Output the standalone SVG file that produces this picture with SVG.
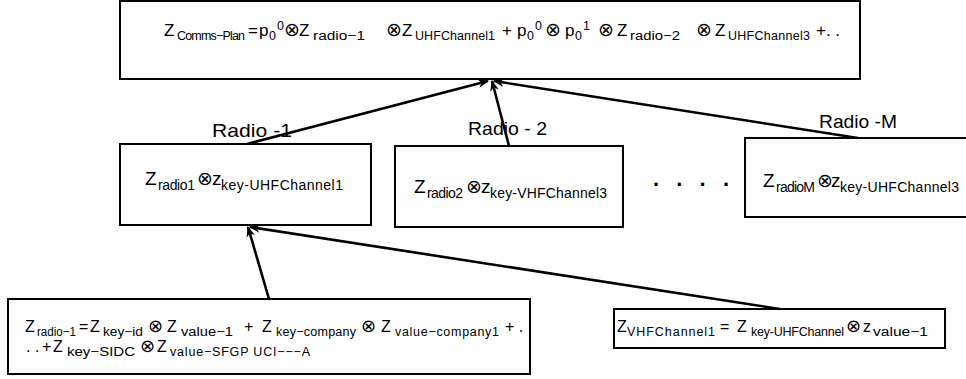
<svg xmlns="http://www.w3.org/2000/svg" width="966" height="379" viewBox="0 0 966 379">
<style>
text{font-family:"Liberation Sans",Arial,"DejaVu Sans",sans-serif;fill:#000}
.box{fill:#fff;stroke:#000;stroke-width:2}
.conn line{stroke:#000;stroke-width:2.6;marker-end:url(#ah)}
.t{font-size:17px}
.t .s{font-size:12.5px}
.t .op{font-size:19px}
.mid{font-size:19px}
.mid .s{font-size:14px}
.mid .op{font-size:19px}
.bot{font-size:16px}
.bot .s{font-size:12.5px}
.bot .op{font-size:18px}
.lbl{font-size:18.5px}
.op{font-family:"DejaVu Sans",sans-serif}
</style>
<defs>
<marker id="ah" viewBox="0 0 10 10" refX="9" refY="5" markerWidth="11" markerHeight="11" markerUnits="userSpaceOnUse" orient="auto"><path d="M0,1 L10,5 L0,9 L3,5 z" fill="#000"/></marker>
</defs>
<rect width="966" height="379" fill="#fff"/>
<g id="comms-plan">
<rect class="box" x="120" y="1" width="740" height="78"/>
<text class="t"><tspan x="164" y="36">Z</tspan><tspan class="s" x="177" y="40" textLength="68" lengthAdjust="spacing">Comms−Plan</tspan><tspan x="248" y="36">=</tspan><tspan x="259" y="36">p</tspan><tspan class="s" x="269" y="40">0</tspan><tspan class="s" x="277" y="30">0</tspan><tspan class="op" x="284" y="36">⊗</tspan><tspan x="299" y="36">Z</tspan><tspan class="s" x="313" y="40" textLength="52" lengthAdjust="spacingAndGlyphs">radio−1</tspan><tspan class="op" x="386" y="36">⊗</tspan><tspan x="402" y="36">Z</tspan><tspan class="s" x="415" y="40" textLength="80" lengthAdjust="spacing">UHFChannel1</tspan><tspan x="502" y="36">+</tspan><tspan x="517" y="36">p</tspan><tspan class="s" x="527" y="40">0</tspan><tspan class="s" x="535" y="30">0</tspan><tspan class="op" x="545" y="36">⊗</tspan><tspan x="565" y="36">p</tspan><tspan class="s" x="575" y="40">0</tspan><tspan class="s" x="583" y="30">1</tspan><tspan class="op" x="598" y="36">⊗</tspan><tspan x="617" y="36">Z</tspan><tspan class="s" x="630" y="40" textLength="50" lengthAdjust="spacingAndGlyphs">radio−2</tspan><tspan class="op" x="696" y="36">⊗</tspan><tspan x="715" y="36">Z</tspan><tspan class="s" x="728" y="40" textLength="82" lengthAdjust="spacing">UHFChannel3</tspan><tspan x="816" y="36">+. .</tspan></text>
</g>
<g id="radio-1">
<rect class="box" x="120" y="144" width="251" height="81"/>
<text class="mid"><tspan x="145" y="185">Z</tspan><tspan class="s" x="158" y="190" textLength="37" lengthAdjust="spacing">radio1</tspan><tspan class="op" x="197" y="185">⊗</tspan><tspan x="212" y="185">z</tspan><tspan class="s" x="221" y="190" textLength="122" lengthAdjust="spacing">key-UHFChannel1</tspan></text>
</g>
<g id="radio-2">
<rect class="box" x="395" y="146" width="228" height="81"/>
<text class="mid"><tspan x="414" y="193">Z</tspan><tspan class="s" x="427" y="198" textLength="36" lengthAdjust="spacing">radio2</tspan><tspan class="op" x="466" y="193">⊗</tspan><tspan x="481" y="193">z</tspan><tspan class="s" x="490" y="198" textLength="117" lengthAdjust="spacing">key-VHFChannel3</tspan></text>
</g>
<g id="dots">
<text x="653" y="186" font-size="22" font-weight="bold" textLength="76" lengthAdjust="spacing">. . . .</text>
</g>
<g id="radio-m">
<rect class="box" x="745" y="138" width="240" height="79"/>
<text class="mid"><tspan x="763" y="187">Z</tspan><tspan class="s" x="776" y="192" textLength="39" lengthAdjust="spacing">radioM</tspan><tspan class="op" x="817" y="187">⊗</tspan><tspan x="831" y="187">z</tspan><tspan class="s" x="840" y="192" textLength="119" lengthAdjust="spacing">key-UHFChannel3</tspan></text>
</g>
<g id="radio-1-def">
<rect class="box" x="8" y="299" width="522" height="75"/>
<text class="bot"><tspan x="25" y="332">Z</tspan><tspan class="s" x="37" y="336" textLength="39" lengthAdjust="spacingAndGlyphs">radio−1</tspan><tspan x="79" y="332">=</tspan><tspan x="90" y="332">Z</tspan><tspan class="s" x="103" y="336" textLength="40" lengthAdjust="spacingAndGlyphs">key−id</tspan><tspan class="op" x="148" y="332">⊗</tspan><tspan x="167" y="332">Z</tspan><tspan class="s" x="181" y="336" textLength="52" lengthAdjust="spacingAndGlyphs">value−1</tspan><tspan x="244" y="332">+</tspan><tspan x="262" y="332">Z</tspan><tspan class="s" x="276" y="336" textLength="80" lengthAdjust="spacing">key−company</tspan><tspan class="op" x="361" y="332">⊗</tspan><tspan x="381" y="332">Z</tspan><tspan class="s" x="395" y="336" textLength="104" lengthAdjust="spacing">value−company1</tspan><tspan x="505" y="332">+ .</tspan><tspan x="26" y="352">. .</tspan><tspan x="42" y="352">+</tspan><tspan x="53" y="352">Z</tspan><tspan class="s" x="67" y="356" textLength="68" lengthAdjust="spacingAndGlyphs">key−SIDC</tspan><tspan class="op" x="140" y="352">⊗</tspan><tspan x="157" y="352">Z</tspan><tspan class="s" x="170" y="356" textLength="140" lengthAdjust="spacing">value−SFGP UCI−−−A</tspan></text>
</g>
<g id="vhf-channel1">
<rect class="box" x="614" y="309" width="331" height="39"/>
<text class="bot"><tspan x="617" y="332">Z</tspan><tspan class="s" x="627" y="336" textLength="88" lengthAdjust="spacing">VHFChannel1</tspan><tspan x="720" y="332">=</tspan><tspan x="737" y="332">Z</tspan><tspan class="s" x="751" y="336" textLength="93" lengthAdjust="spacing">key-UHFChannel</tspan><tspan class="op" x="846" y="332">⊗</tspan><tspan x="863" y="332">z</tspan><tspan class="s" x="873" y="336" textLength="55" lengthAdjust="spacingAndGlyphs">value−1</tspan></text>
</g>
<g id="labels">
<text class="lbl" x="212" y="137" textLength="80" lengthAdjust="spacingAndGlyphs">Radio -1</text>
<text class="lbl" x="468" y="135" textLength="79" lengthAdjust="spacingAndGlyphs">Radio - 2</text>
<text class="lbl" x="819" y="128" textLength="78" lengthAdjust="spacingAndGlyphs">Radio -M</text>
</g>
<g class="conn" id="connectors">
<line x1="247" y1="144" x2="488" y2="81"/>
<line x1="509" y1="146" x2="492" y2="81"/>
<line x1="858" y1="138" x2="494" y2="81"/>
<line x1="269" y1="299" x2="248" y2="227"/>
<line x1="780" y1="309" x2="250" y2="227"/>
</g>
</svg>
